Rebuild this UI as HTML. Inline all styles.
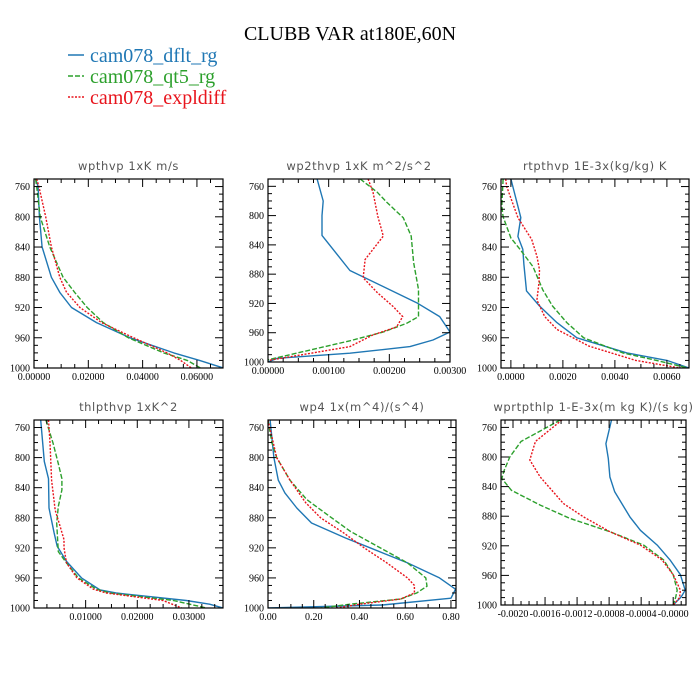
<!DOCTYPE html>
<html><head><meta charset="utf-8">
<style>
html,body{margin:0;padding:0;background:#fff;}
svg{display:block;}
.ttl{font-family:"Liberation Serif",serif;}
.pt{font-family:"DejaVu Sans","Liberation Sans",sans-serif;font-size:11.5px;fill:#555;letter-spacing:0.6px;}
.tk{font-family:"Liberation Serif",serif;font-size:10px;fill:#000;}
</style></head>
<body>
<svg id="chart" width="700" height="700" viewBox="0 0 700 700" xmlns="http://www.w3.org/2000/svg">
<text class="ttl" x="350" y="40" font-size="20" text-anchor="middle">CLUBB VAR at180E,60N</text>
<g>
<g><line x1="68" y1="55" x2="84" y2="55" stroke="#1f77b4" stroke-width="1.5"/><text class="ttl" x="90" y="62" font-size="20" fill="#1f77b4">cam078_dflt_rg</text></g>
<g><line x1="68" y1="76" x2="84" y2="76" stroke="#2ca02c" stroke-width="1.5" stroke-dasharray="5,2"/><text class="ttl" x="90" y="83" font-size="20" fill="#2ca02c">cam078_qt5_rg</text></g>
<g><line x1="68" y1="97" x2="84" y2="97" stroke="#e8141c" stroke-width="1.5" stroke-dasharray="2,1.5"/><text class="ttl" x="90" y="104" font-size="20" fill="#e8141c">cam078_expldiff</text></g>
</g>
</svg>
<script>
// ---- data (pressure levels in hPa; values per series) ----
const p1Lev = [750,760,800,840,880,900,920,940,960,980,990,1000];
const p1Blue = [0.0006,0.0015,0.002,0.003,0.0064,0.0095,0.0138,0.023,0.0354,0.0515,0.061,0.0697];
const p1Green = [0.0006,0.001,0.0023,0.0058,0.0107,0.015,0.0196,0.0255,0.0348,0.0478,0.0564,0.0613];
const p1Red = [0.001,0.0018,0.0043,0.0064,0.0095,0.012,0.0169,0.0249,0.0367,0.049,0.054,0.058];

const p2BlueLev = [750,780,800,827,875,919,938,959,970,979,988,995,1000];
const p2Blue = [0.00081,0.00091,0.00089,0.00089,0.00135,0.00245,0.00283,0.003,0.00272,0.00234,0.00135,0.00015,0];
const p2GreenLev = [750,768,782,803,828,864,901,938,947,959,971,997];
const p2Green = [0.00152,0.0018,0.00196,0.00223,0.00236,0.0024,0.00248,0.00248,0.00229,0.0019,0.00135,0];
const p2RedLev = [750,768,801,828,860,885,905,924,938,952,963,979,998];
const p2Red = [0.00165,0.00173,0.00181,0.0019,0.0016,0.00157,0.0018,0.00206,0.00222,0.00212,0.00173,0.00135,0];

const p3BlueLev = [750,801,826,843,863,898,918,940,960,980,990,1000];
const p3Blue = [0,0.00038,0.00027,0.00046,0.0005,0.0006,0.0011,0.00177,0.00254,0.00446,0.006,0.00685];
const p3GreenLev = [750,786,800,828,843,866,897,918,940,960,980,990,1000];
const p3Green = [-0.0003,-0.00035,-0.0003,0,0.00035,0.00085,0.00123,0.0016,0.00215,0.0028,0.0043,0.0056,0.0068];
const p3RedLev = [750,760,801,830,852,870,887,910,932,949,971,990,1000];
const p3Red = [-0.0002,-0.00016,0.00027,0.0008,0.001,0.0011,0.00108,0.001,0.0013,0.00177,0.003,0.0048,0.0065];

const p4BlueLev = [750,805,828,867,900,918,938,960,976,980,990,995,1000];
const p4Blue = [0.0013,0.002,0.0028,0.0029,0.0039,0.0045,0.0063,0.0092,0.0128,0.0159,0.0295,0.034,0.0366];
const p4GreenLev = [750,781,808,828,843,865,887,925,940,960,975,980,990,1000];
const p4Green = [0.0023,0.0037,0.0047,0.0054,0.0054,0.0047,0.0044,0.0047,0.0063,0.0086,0.0121,0.0147,0.027,0.0334];
const p4RedLev = [750,780,830,870,890,909,920,940,960,975,980,990,1000];
const p4Red = [0.0028,0.0031,0.0034,0.0041,0.005,0.0058,0.0058,0.0063,0.0083,0.0115,0.014,0.025,0.0286];

const p5BlueLev = [750,800,830,847,867,887,907,918,940,960,975,987,996,1000];
const p5Blue = [0.009,0.026,0.045,0.074,0.126,0.19,0.34,0.43,0.61,0.75,0.82,0.8,0.5,0];
const p5GreenLev = [750,780,800,830,856,876,898,940,960,971,980,988,995,1000];
const p5Green = [0,0.017,0.038,0.096,0.17,0.26,0.36,0.61,0.69,0.695,0.65,0.58,0.36,0.23];
const p5RedLev = [750,800,830,860,880,900,920,940,960,970,980,988,995,1000];
const p5Red = [0,0.038,0.096,0.165,0.23,0.33,0.42,0.52,0.61,0.64,0.64,0.58,0.4,0.3];

const p6BlueLev = [750,782,802,827,847,881,899,919,939,959,980,989,1000];
const p6Blue = [-0.00077,-0.00084,-0.00081,-0.00079,-0.00073,-0.00054,-0.00041,-0.0002,-0.00004,0.00009,0.00015,0.0001,0];
const p6GreenLev = [750,779,800,818,829,845,865,883,901,919,939,959,980,990,1000];
const p6Green = [-0.00141,-0.0019,-0.00204,-0.00211,-0.00214,-0.00202,-0.00166,-0.00129,-0.00079,-0.00037,-0.00012,0,0.00005,0.00003,0];
const p6RedLev = [750,779,804,827,863,881,901,919,939,959,980,990,1000];
const p6Red = [-0.00139,-0.00172,-0.00179,-0.00166,-0.00137,-0.00112,-0.00079,-0.00041,-0.00014,0,0.00009,0.00008,0];

const yTicks = [760,800,840,880,920,960,1000];
const p1XTicks = [0,0.02,0.04,0.06];
const p1XLabels = ["0.00000","0.02000","0.04000","0.06000"];
const p2XTicks = [0,0.001,0.002,0.003];
const p2XLabels = ["0.00000","0.00100","0.00200","0.00300"];
const p3XTicks = [0,0.002,0.004,0.006];
const p3XLabels = ["0.0000","0.0020","0.0040","0.0060"];
const p4XTicks = [0.01,0.02,0.03];
const p4XLabels = ["0.01000","0.02000","0.03000"];
const p5XTicks = [0,0.2,0.4,0.6,0.8];
const p5XLabels = ["0.00","0.20","0.40","0.60","0.80"];
const p6XTicks = [-0.002,-0.0016,-0.0012,-0.0008,-0.0004,0];
const p6XLabels = ["-0.0020","-0.0016","-0.0012","-0.0008","-0.0004","-0.0000"];

const NS = "http://www.w3.org/2000/svg";
const svg = document.getElementById("chart");
function mk(tag, attrs, parent){
  const e = document.createElementNS(NS, tag);
  for (const k in attrs) e.setAttribute(k, attrs[k]);
  parent.appendChild(e);
  return e;
}
function panel(cfg){
  const g = mk("g", {}, svg);
  
  
  const L=cfg.l,R=cfg.r,T=cfg.t,B=cfg.b;
  const sx = v => L + (v - cfg.xmin)/(cfg.xmax - cfg.xmin)*(R-L);
  const sy = p => T + (p - 750)/250*(B-T);
  const t = mk("text", {x:(L+R)/2, y:T-9, "text-anchor":"middle", class:"pt"}, g);
  t.textContent = cfg.title;
  
  
  const styles = [["#1f77b4",""],["#2ca02c","5,2"],["#e8141c","2,1.5"]];
  const names = ["dflt","qt5","expldiff"];
  const clip = mk("clipPath", {id:"c"+cfg.name}, g);
  mk("rect", {x:L,y:T,width:R-L,height:B-T}, clip);
  cfg.series.forEach((s,i)=>{
    const pts = s[1].map((v,j)=>sx(v).toFixed(1)+","+sy(s[0][j]).toFixed(1)).join(" ");
    const pl = mk("polyline", {points:pts, fill:"none", stroke:styles[i][0], "stroke-width":1.4, "stroke-linejoin":"round", "clip-path":"url(#c"+cfg.name+")"}, g);
    if (styles[i][1]) pl.setAttribute("stroke-dasharray", styles[i][1]);
    
    
  });
  const fr = mk("rect", {x:L,y:T,width:R-L,height:B-T,fill:"none",stroke:"#000","stroke-width":1.2}, g);
  
  
  for (let p=760; p<=1000; p+=10){
    const major = yTicks.includes(p);
    const len = major?8:4;
    mk("line",{x1:L,y1:sy(p),x2:L+len,y2:sy(p),stroke:"#000","stroke-width":1},g);
    mk("line",{x1:R,y1:sy(p),x2:R-len,y2:sy(p),stroke:"#000","stroke-width":1},g);
  }
  yTicks.forEach(p=>{
    const tx = mk("text",{x:L-4,y:sy(p)+3.5,"text-anchor":"end",class:"tk"},g);
    tx.textContent = p;
    
    
  });
  const step = cfg.minor;
  const start = Math.ceil(cfg.xmin/step - 1e-6);
  const end = Math.floor(cfg.xmax/step + 1e-6);
  for (let k=start;k<=end;k++){
    const v=k*step;
    const major = cfg.xt.some(m=>Math.abs(m-v)<step*0.01);
    const len = major?8:4;
    mk("line",{x1:sx(v),y1:B,x2:sx(v),y2:B-len,stroke:"#000","stroke-width":1},g);
    mk("line",{x1:sx(v),y1:T,x2:sx(v),y2:T+len,stroke:"#000","stroke-width":1},g);
  }
  cfg.xt.forEach((v,i)=>{
    const tx = mk("text",{x:sx(v),y:B+12,"text-anchor":"middle",class:"tk"},g);
    tx.textContent = cfg.xl[i];
    
    
  });
}
panel({name:"panel-wpthvp",title:"wpthvp  1xK m/s",l:34,r:223,t:179,b:368,xmin:0,xmax:0.0696,minor:0.005,xt:p1XTicks,xl:p1XLabels,
  series:[[p1Lev,p1Blue],[p1Lev,p1Green],[p1Lev,p1Red]]});
panel({name:"panel-wp2thvp",title:"wp2thvp  1xK m^2/s^2",l:268,r:450,t:179,b:362,xmin:0,xmax:0.003,minor:0.00025,xt:p2XTicks,xl:p2XLabels,
  series:[[p2BlueLev,p2Blue],[p2GreenLev,p2Green],[p2RedLev,p2Red]]});
panel({name:"panel-rtpthvp",title:"rtpthvp  1E-3x(kg/kg) K",l:501,r:689,t:179,b:368,xmin:-0.00038,xmax:0.00685,minor:0.0005,xt:p3XTicks,xl:p3XLabels,
  series:[[p3BlueLev,p3Blue],[p3GreenLev,p3Green],[p3RedLev,p3Red]]});
panel({name:"panel-thlpthvp",title:"thlpthvp  1xK^2",l:34,r:223,t:420,b:608,xmin:0,xmax:0.0366,minor:0.0025,xt:p4XTicks,xl:p4XLabels,
  series:[[p4BlueLev,p4Blue],[p4GreenLev,p4Green],[p4RedLev,p4Red]]});
panel({name:"panel-wp4",title:"wp4  1x(m^4)/(s^4)",l:268,r:456,t:420,b:608,xmin:0,xmax:0.822,minor:0.05,xt:p5XTicks,xl:p5XLabels,
  series:[[p5BlueLev,p5Blue],[p5GreenLev,p5Green],[p5RedLev,p5Red]]});
panel({name:"panel-wprtpthlp",title:"wprtpthlp  1-E-3x(m kg K)/(s kg)",l:501,r:686,t:420,b:605,xmin:-0.00215,xmax:0.00016,minor:0.0001,xt:p6XTicks,xl:p6XLabels,
  series:[[p6BlueLev,p6Blue],[p6GreenLev,p6Green],[p6RedLev,p6Red]]});
</script>
</body></html>
